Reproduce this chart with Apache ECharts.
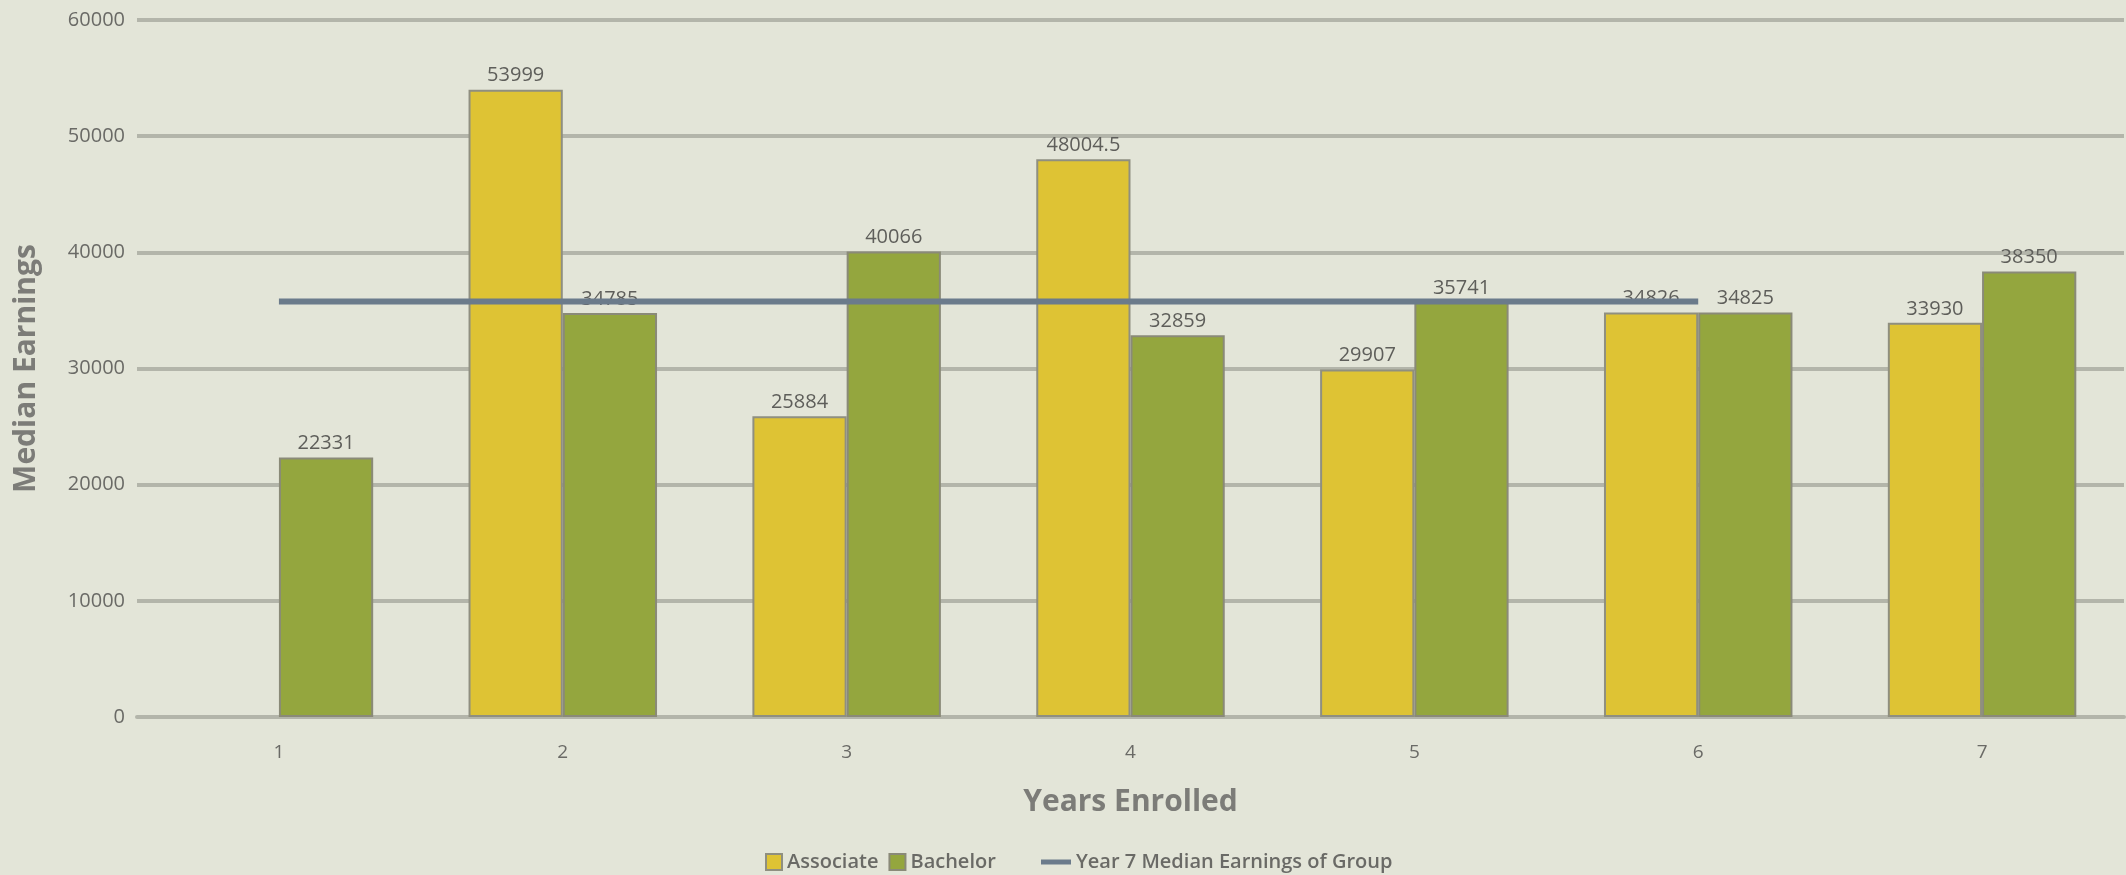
<!DOCTYPE html>
<html>
<head>
<meta charset="utf-8">
<script src="https://cdn.jsdelivr.net/npm/echarts@6/dist/echarts.min.js"></script>
<style>
  html, body { margin: 0; padding: 0; background: #e3e5d8; }
  #chart { width: 2126px; height: 875px; }
</style>
</head>
<body>
<div id="chart"></div>
<script>
// Median earnings by years enrolled
const years = ['1', '2', '3', '4', '5', '6', '7'];
const associate = [null, 53999, 25884, 48004.5, 29907, 34826, 33930];
const bachelor = [22331, 34785, 40066, 32859, 35741, 34825, 38350];
// Reference line: year 7 median earnings of the whole group, drawn across years 1-6
const groupMedian = [35760, 35760, 35760, 35760, 35760, 35760, null];
const yTicks = { min: 0, max: 60000, interval: 10000 };

const textColor = '#6a6a66';
const gridColor = '#b3b5aa';
const font = 'Open Sans';

const chart = echarts.init(document.getElementById('chart'));

const barLabel = {
  show: true,
  position: 'top',
  distance: 4,
  color: '#5e5e5a',
  fontFamily: font,
  fontSize: 20
};

const legendText = { color: textColor, fontFamily: font, fontSize: 20, fontWeight: 600 };

chart.setOption({
  backgroundColor: '#e3e5d8',
  animation: false,
  grid: { left: 137, right: 2, top: 20, bottom: 158 },
  legend: [
    {
      data: ['Associate', 'Bachelor'],
      left: 760,
      top: 847,
      itemWidth: 16,
      itemHeight: 16,
      itemGap: 10,
      icon: 'rect',
      textStyle: legendText
    },
    {
      data: [{ name: 'Year 7 Median Earnings of Group', icon: 'rect' }],
      left: 1036,
      top: 847,
      itemWidth: 30,
      itemHeight: 5,
      textStyle: legendText
    }
  ],
  xAxis: {
    type: 'category',
    data: years,
    name: 'Years Enrolled',
    nameLocation: 'middle',
    nameGap: 70,
    nameTextStyle: { color: '#7c7c78', fontFamily: font, fontSize: 30, fontWeight: 'bold' },
    axisLine: { show: true, lineStyle: { color: gridColor, width: 4 } },
    axisTick: { show: false },
    axisLabel: { color: textColor, fontFamily: font, fontSize: 19, margin: 26 }
  },
  yAxis: {
    type: 'value',
    min: yTicks.min,
    max: yTicks.max,
    interval: yTicks.interval,
    name: 'Median Earnings',
    nameLocation: 'middle',
    nameGap: 96,
    nameTextStyle: { color: '#7c7c78', fontFamily: font, fontSize: 30, fontWeight: 'bold' },
    axisLine: { show: false },
    axisTick: { show: false },
    axisLabel: {
      color: textColor,
      fontFamily: font,
      fontSize: 20,
      margin: 12,
      formatter: (v) => String(v)
    },
    splitLine: { lineStyle: { color: gridColor, width: 4 } }
  },
  series: [
    {
      name: 'Associate',
      type: 'bar',
      data: associate,
      barGap: '0%',
      barCategoryGap: '33.6%',
      z: 2,
      itemStyle: { color: '#dec334', borderColor: '#8f8f80', borderWidth: 2 },
      label: barLabel
    },
    {
      name: 'Bachelor',
      type: 'bar',
      data: bachelor,
      z: 2,
      itemStyle: { color: '#94a63e', borderColor: '#8a8a78', borderWidth: 2 },
      label: barLabel
    },
    {
      name: 'Year 7 Median Earnings of Group',
      type: 'line',
      data: groupMedian,
      z: 5,
      symbol: 'none',
      lineStyle: { color: '#6b7b8b', width: 6 },
      itemStyle: { color: '#6b7b8b' }
    }
  ]
});
</script>
</body>
</html>
